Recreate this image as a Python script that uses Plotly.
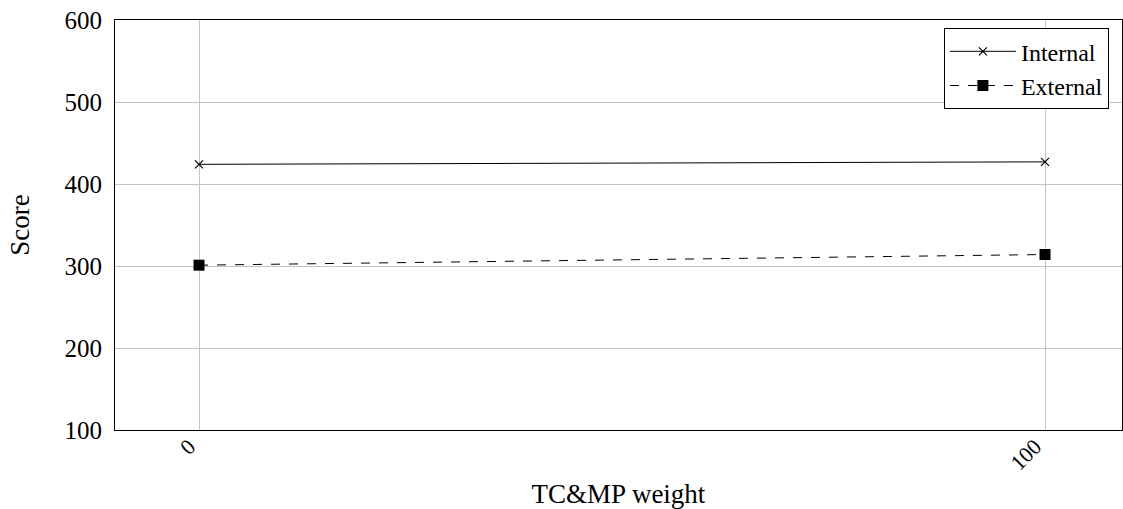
import plotly.graph_objects as go

x_vals = [0, 100]
internal = [424, 427]
external = [301, 314]
y_ticks = [100, 200, 300, 400, 500, 600]
x_ticks = [0, 100]

FONT = "Liberation Serif"

fig = go.Figure()
fig.add_trace(go.Scatter(
    x=x_vals, y=internal, name="Internal", mode="lines+markers",
    line=dict(color="black", width=1),
    marker=dict(symbol="x-thin", size=8, color="black", line=dict(color="black", width=1.2)),
))
fig.add_trace(go.Scatter(
    x=x_vals, y=external, name="External", mode="lines+markers",
    line=dict(color="black", width=1, dash="dash"),
    marker=dict(symbol="square", size=11, color="black"),
))

fig.update_layout(
    width=1123, height=509,
    margin=dict(l=115, r=1, t=20, b=79),
    paper_bgcolor="white", plot_bgcolor="white",
    font=dict(family=FONT, size=25, color="black"),
    showlegend=True,
    legend=dict(x=0.987, y=0.98, xanchor="right", yanchor="top",
                bordercolor="black", borderwidth=1, bgcolor="white",
                font=dict(family=FONT, size=24), tracegroupgap=0,
                itemwidth=66),
    xaxis=dict(range=[-9.93, 109.1], tickvals=x_ticks, ticktext=[str(t) for t in x_ticks],
               tickangle=-45, showgrid=True, gridcolor="#c4c4c4", gridwidth=1,
               showline=True, linecolor="black", linewidth=1.2, mirror=True,
               zeroline=False, ticks="", tickfont=dict(family=FONT, size=22),
               ticklabelshift=-10, ticklabelstandoff=-6,
               automargin=False,
               title=dict(text="TC&MP weight", font=dict(family=FONT, size=27), standoff=14)),
    yaxis=dict(range=[100, 600], tickvals=y_ticks, showgrid=True, gridcolor="#c4c4c4",
               gridwidth=1, showline=True, linecolor="black", linewidth=1.2, mirror=True,
               zeroline=False, ticks="", tickfont=dict(family=FONT, size=25),
               ticklabelstandoff=7, automargin=False,
               title=dict(text="Score", font=dict(family=FONT, size=27), standoff=26)),
)

fig.write_html("out.html")
